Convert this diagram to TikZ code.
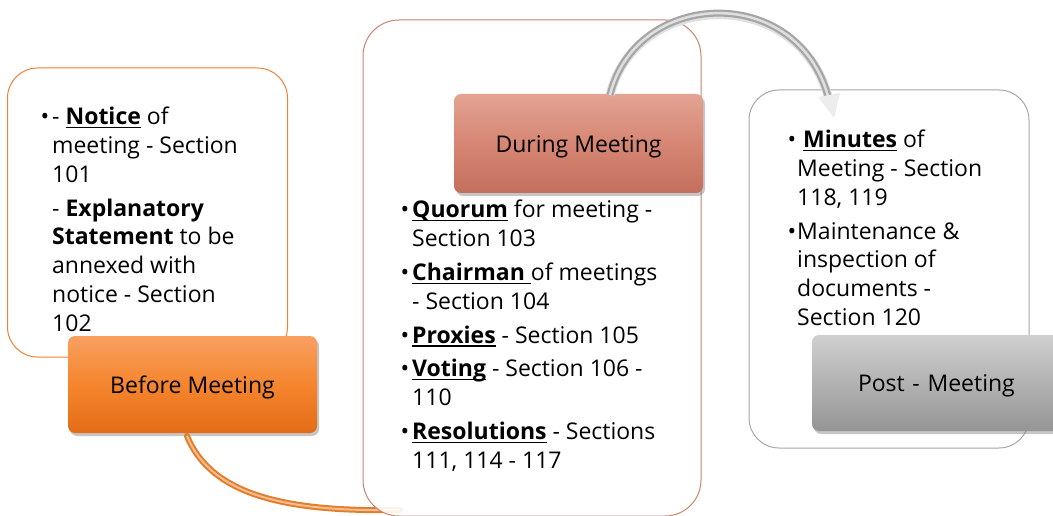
\documentclass[tikz,border=0pt]{standalone}
\usepackage{fontspec}
\setmainfont{Open Sans}
\usetikzlibrary{shadows,calc,arrows.meta}
\definecolor{orline}{HTML}{EE8234}
\definecolor{ortop}{HTML}{F8A060}
\definecolor{ormid}{HTML}{F5852E}
\definecolor{orbot}{HTML}{E36D17}
\definecolor{saline}{HTML}{C98473}
\definecolor{satop}{HTML}{E4A393}
\definecolor{samid}{HTML}{D68673}
\definecolor{sabot}{HTML}{C46F5E}
\definecolor{grline}{HTML}{A6A6A6}
\definecolor{grtop}{HTML}{D0D0D0}
\definecolor{grmid}{HTML}{B2B2B2}
\definecolor{grbot}{HTML}{959595}
\definecolor{arcor}{HTML}{E07E2C}
\newsavebox\ulbox
\newcommand\ulb[1]{\sbox\ulbox{\bfseries #1}\rlap{\rule[-3.5pt]{\wd\ulbox}{1.3pt}}\usebox\ulbox}
\newcommand\bul[1][3pt]{\llap{•\hspace{#1}}}
\newcommand\lowtxt[1]{\raisebox{0pt}[\dimexpr\height+6pt\relax][\depth]{#1}}
\tikzset{
  notebox/.style={draw, line width=1pt, fill=white, rounded corners=30pt, inner sep=0pt},
  labelbox/.style={rounded corners=7pt, inner sep=0pt, draw=none,
     drop shadow={opacity=0.45, shadow xshift=2pt, shadow yshift=-3pt},
     font=\fontsize{23}{27}\selectfont},
  listtext/.style={anchor=north west, align=left, inner sep=0pt, font=\fontsize{23}{28.8}\selectfont},
}
\begin{document}
\begin{tikzpicture}[x=1pt,y=-1pt]
\useasboundingbox (0,0) rectangle (1053,516);
\clip (0,0) rectangle (1053,516);

% before meeting
\node[notebox, draw=orline, minimum width=280pt, minimum height=289pt] (leftbox) at (147.5,212.5) {};
\node[labelbox, top color=ortop, bottom color=orbot, middle color=ormid,
      minimum width=249pt, minimum height=97pt] (before) at (192.5,384.5) {\lowtxt{Before Meeting}};
\coordinate (oa) at (187,436);
\coordinate (ob) at (400,510);
\draw[line width=6pt, arcor, line cap=round] (oa) .. controls (212,497) and (290,512) .. (ob);
\draw[line width=2pt, ortop!70!white] (oa) .. controls (212,497) and (290,512) .. (ob);

% during meeting
\node[notebox, draw=saline, rounded corners=36pt, fill opacity=0.9, minimum width=338pt, minimum height=496pt] (midbox) at (532,268) {};
\node[labelbox, top color=satop, bottom color=sabot, middle color=samid,
      minimum width=249pt, minimum height=99pt] (during) at (578.5,143.5) {\lowtxt{During Meeting}};

% post meeting box (under the arc)
\node[notebox, draw=grline, minimum width=280pt, minimum height=358pt] (rightbox) at (889,269) {};

\coordinate (ga) at (610,95);
\coordinate (gb) at (829,100);
\draw[line width=9pt, black!12, yshift=-2pt] (ga) .. controls (636,-12) and (800,-18) .. (gb);
\draw[line width=7pt, gray!70] (ga) .. controls (636,-12) and (800,-18) .. (gb);
\draw[line width=2.5pt, gray!25] (ga) .. controls (636,-12) and (800,-18) .. (gb);
\fill[gray!14] ($(gb)+(-11,-3)$) -- ($(gb)+(11,-7)$) -- ($(gb)+(5,18)$) -- cycle;

\node[labelbox, top color=grtop, bottom color=grbot, middle color=grmid,
      minimum width=250pt, minimum height=96pt, text width=246pt, align=left] (post) at (937,383) {\hspace{44pt}\lowtxt{Post - Meeting}};

% texts
\node[listtext] (ltext) at (52,107) {%
\bul[3pt]- \ulb{Notice} of\\
meeting - Section\\
101\\[5pt]
- \textbf{Explanatory}\\
\textbf{Statement} to be\\
annexed with\\
notice - Section\\
102};

\node[listtext] (mtext) at (412,200) {%
\bul[3pt]\ulb{Quorum} for meeting -\\
Section 103\\[5pt]
\bul[3pt]\ulb{Chairman }of meetings\\
- Section 104\\[5pt]
\bul[3pt]\ulb{Proxies} - Section 105\\[5pt]
\bul[3pt]\ulb{Voting} - Section 106 -\\
110\\[5pt]
\bul[3pt]\ulb{Resolutions} - Sections\\
111, 114 - 117};

\node[listtext] (rtext) at (797,130) {%
\bul[1pt] \ulb{Minutes} of\\
Meeting - Section\\
118, 119\\[5pt]
\bul[1pt]Maintenance \&\\
inspection of\\
documents -\\
Section 120};
\end{tikzpicture}
\end{document}
